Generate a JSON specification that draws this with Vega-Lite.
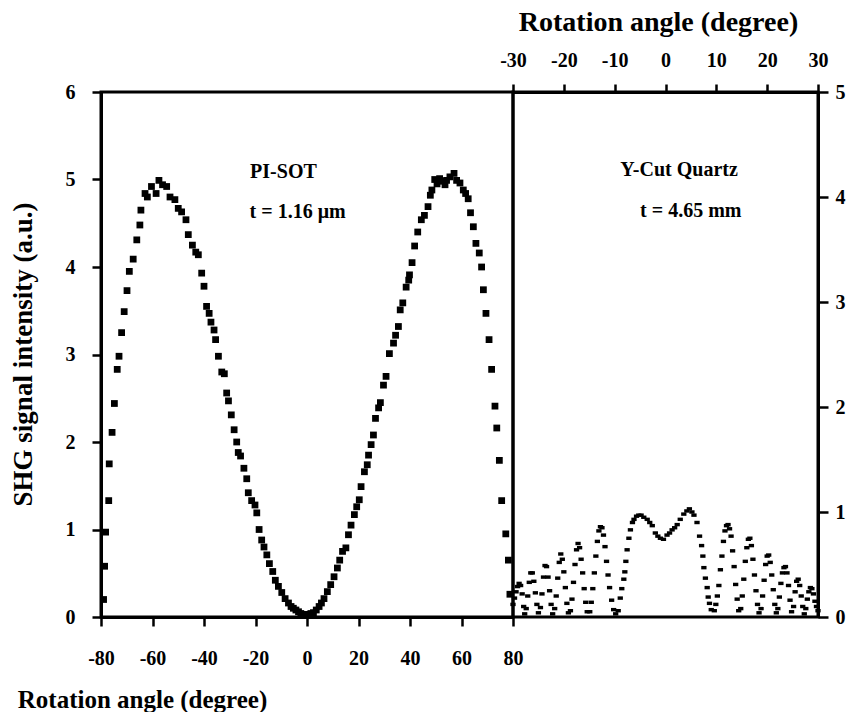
{
"$schema": "https://vega.github.io/schema/vega-lite/v6.json",
"background": "white",
"padding": {"left": 7, "top": 6, "right": 5, "bottom": 2},
"spacing": 0,
"bounds": "flush",
"config": {
 "view": {"stroke": "black", "strokeWidth": 3},
 "font": "Liberation Serif",
 "axis": {"grid": false, "domainColor": "black", "domainWidth": 3, "tickColor": "black", "tickWidth": 2.5, "tickSize": 9, "labelFont": "Liberation Serif", "labelFontWeight": "bold", "labelFontSize": 20, "labelColor": "black", "titleFont": "Liberation Serif", "titleFontWeight": "bold", "titleColor": "black", "labelFlush": false, "labelOverlap": false, "labelExpr": "(datum.value < 0 ? '-' : '') + abs(datum.value)"}
},
"hconcat": [
 {
  "width": 412, "height": 525,
  "layer": [
   {
    "data": {"values": [
{"angle":-79.0,"signal":0.2},{"angle":-78.6,"signal":0.58},{"angle":-78.2,"signal":0.97},{"angle":-77.0,"signal":1.33},{"angle":-76.8,"signal":1.75},{"angle":-75.7,"signal":2.11},{"angle":-74.8,"signal":2.44},{"angle":-73.7,"signal":2.83},{"angle":-73.0,"signal":2.98},{"angle":-72.0,"signal":3.25},{"angle":-71.0,"signal":3.49},{"angle":-69.9,"signal":3.73},{"angle":-69.0,"signal":3.95},{"angle":-67.5,"signal":4.09},{"angle":-66.1,"signal":4.31},{"angle":-64.9,"signal":4.48},{"angle":-64.5,"signal":4.65},{"angle":-62.9,"signal":4.84},{"angle":-62.0,"signal":4.8},{"angle":-60.4,"signal":4.92},{"angle":-58.6,"signal":4.84},{"angle":-57.5,"signal":4.99},{"angle":-56.1,"signal":4.94},{"angle":-54.5,"signal":4.92},{"angle":-53.2,"signal":4.8},{"angle":-51.3,"signal":4.77},{"angle":-50.0,"signal":4.67},{"angle":-48.7,"signal":4.63},{"angle":-47.0,"signal":4.54},{"angle":-46.1,"signal":4.37},{"angle":-44.5,"signal":4.25},{"angle":-43.2,"signal":4.17},{"angle":-42.2,"signal":4.14},{"angle":-40.9,"signal":3.93},{"angle":-40.0,"signal":3.78},{"angle":-39.0,"signal":3.55},{"angle":-38.0,"signal":3.47},{"angle":-37.3,"signal":3.37},{"angle":-36.1,"signal":3.28},{"angle":-35.5,"signal":3.17},{"angle":-34.4,"signal":2.98},{"angle":-33.1,"signal":2.8},{"angle":-32.1,"signal":2.78},{"angle":-31.2,"signal":2.56},{"angle":-30.5,"signal":2.47},{"angle":-29.4,"signal":2.31},{"angle":-28.3,"signal":2.14},{"angle":-27.3,"signal":2.0},{"angle":-26.7,"signal":1.88},{"angle":-25.8,"signal":1.84},{"angle":-24.5,"signal":1.7},{"angle":-23.4,"signal":1.58},{"angle":-22.8,"signal":1.42},{"angle":-21.5,"signal":1.33},{"angle":-20.2,"signal":1.28},{"angle":-19.5,"signal":1.19},{"angle":-18.6,"signal":1.0},{"angle":-17.6,"signal":0.88},{"angle":-16.7,"signal":0.8},{"angle":-15.6,"signal":0.71},{"angle":-14.6,"signal":0.61},{"angle":-13.3,"signal":0.52},{"angle":-12.3,"signal":0.42},{"angle":-11.1,"signal":0.35},{"angle":-9.8,"signal":0.28},{"angle":-8.5,"signal":0.21},{"angle":-7.2,"signal":0.16},{"angle":-6.2,"signal":0.12},{"angle":-5.3,"signal":0.1},{"angle":-4.3,"signal":0.08},{"angle":-3.3,"signal":0.06},{"angle":-2.4,"signal":0.04},{"angle":-1.4,"signal":0.03},{"angle":-0.5,"signal":0.03},{"angle":0.5,"signal":0.02},{"angle":1.5,"signal":0.04},{"angle":2.5,"signal":0.05},{"angle":3.6,"signal":0.08},{"angle":4.7,"signal":0.12},{"angle":5.6,"signal":0.16},{"angle":6.6,"signal":0.21},{"angle":7.9,"signal":0.29},{"angle":9.2,"signal":0.37},{"angle":10.5,"signal":0.46},{"angle":11.8,"signal":0.56},{"angle":12.7,"signal":0.65},{"angle":13.8,"signal":0.75},{"angle":15.1,"signal":0.79},{"angle":16.1,"signal":0.94},{"angle":17.1,"signal":1.05},{"angle":18.4,"signal":1.17},{"angle":19.3,"signal":1.26},{"angle":20.3,"signal":1.34},{"angle":21.0,"signal":1.49},{"angle":22.3,"signal":1.66},{"angle":23.4,"signal":1.74},{"angle":23.9,"signal":1.85},{"angle":24.9,"signal":1.97},{"angle":25.8,"signal":2.08},{"angle":26.6,"signal":2.27},{"angle":27.8,"signal":2.39},{"angle":28.5,"signal":2.45},{"angle":29.7,"signal":2.65},{"angle":30.7,"signal":2.75},{"angle":32.0,"signal":3.01},{"angle":33.6,"signal":3.13},{"angle":34.4,"signal":3.22},{"angle":35.5,"signal":3.32},{"angle":36.2,"signal":3.51},{"angle":37.2,"signal":3.59},{"angle":38.5,"signal":3.77},{"angle":39.5,"signal":3.85},{"angle":39.8,"signal":3.91},{"angle":40.8,"signal":4.05},{"angle":41.8,"signal":4.24},{"angle":43.0,"signal":4.4},{"angle":44.4,"signal":4.54},{"angle":45.6,"signal":4.59},{"angle":47.0,"signal":4.69},{"angle":47.9,"signal":4.82},{"angle":48.5,"signal":4.88},{"angle":49.6,"signal":5.0},{"angle":50.5,"signal":4.95},{"angle":51.5,"signal":5.01},{"angle":52.5,"signal":4.98},{"angle":53.6,"signal":4.94},{"angle":54.2,"signal":4.99},{"angle":55.5,"signal":5.03},{"angle":57.1,"signal":5.07},{"angle":58.1,"signal":4.99},{"angle":59.4,"signal":4.96},{"angle":60.7,"signal":4.88},{"angle":61.6,"signal":4.84},{"angle":62.6,"signal":4.78},{"angle":63.5,"signal":4.62},{"angle":64.6,"signal":4.46},{"angle":65.6,"signal":4.27},{"angle":66.9,"signal":4.16},{"angle":67.8,"signal":4.0},{"angle":68.5,"signal":3.74},{"angle":69.5,"signal":3.47},{"angle":70.7,"signal":3.17},{"angle":71.7,"signal":2.83},{"angle":73.0,"signal":2.41},{"angle":73.7,"signal":2.16},{"angle":74.7,"signal":1.79},{"angle":75.6,"signal":1.33},{"angle":77.2,"signal":0.95},{"angle":78.2,"signal":0.65},{"angle":78.8,"signal":0.26}
    ]},
    "mark": {"type": "point", "shape": "square", "filled": true, "color": "black", "size": 46, "opacity": 1},
    "encoding": {
     "x": {"field": "angle", "type": "quantitative", "scale": {"domain": [-80, 80], "nice": false, "zero": false},
      "axis": {"orient": "bottom", "title": "Rotation angle (degree)", "titleFontSize": 25, "titleX": 41, "titleY": 82, "titleBaseline": "middle", "titleAlign": "center", "values": [-80,-60,-40,-20,0,20,40,60,80], "labelPadding": 22, "tickSize": 9}},
     "y": {"field": "signal", "type": "quantitative", "scale": {"domain": [0, 6], "nice": false},
      "axis": {"orient": "left", "title": "SHG signal intensity (a.u.)", "titleFontSize": 27, "titleX": -78, "titleY": 262, "titleBaseline": "middle", "titleAlign": "center", "values": [0,1,2,3,4,5,6], "labelPadding": 17, "tickSize": 9}}
    }
   },
   {
    "data": {"values": [
     {"angle": -22.1, "signal": 5.09, "label": "PI-SOT"},
     {"angle": -22.3, "signal": 4.63, "label": "t = 1.16 μm"}
    ]},
    "mark": {"type": "text", "align": "left", "baseline": "middle", "fontSize": 20, "fontWeight": "bold", "font": "Liberation Serif", "color": "black"},
    "encoding": {
     "x": {"field": "angle", "type": "quantitative"},
     "y": {"field": "signal", "type": "quantitative"},
     "text": {"field": "label"}
    }
   }
  ]
 },
 {
  "width": 305, "height": 525,
  "layer": [
   {
    "data": {"values": [
{"angle":-30.0,"signal":0.12},{"angle":-29.7,"signal":0.18},{"angle":-29.4,"signal":0.24},{"angle":-29.1,"signal":0.29},{"angle":-28.8,"signal":0.32},{"angle":-28.5,"signal":0.3},{"angle":-28.2,"signal":0.22},{"angle":-27.9,"signal":0.1},{"angle":-27.7,"signal":0.03},
{"angle":-27.4,"signal":0.08},{"angle":-27.1,"signal":0.2},{"angle":-26.8,"signal":0.33},{"angle":-26.5,"signal":0.42},{"angle":-26.2,"signal":0.42},{"angle":-25.9,"signal":0.34},{"angle":-25.6,"signal":0.23},{"angle":-25.3,"signal":0.12},{"angle":-25.0,"signal":0.04},
{"angle":-24.6,"signal":0.09},{"angle":-24.3,"signal":0.22},{"angle":-24.0,"signal":0.38},{"angle":-23.7,"signal":0.49},{"angle":-23.4,"signal":0.48},{"angle":-23.1,"signal":0.38},{"angle":-22.8,"signal":0.25},{"angle":-22.5,"signal":0.12},{"angle":-22.2,"signal":0.03},
{"angle":-21.8,"signal":0.08},{"angle":-21.5,"signal":0.2},{"angle":-21.2,"signal":0.37},{"angle":-20.9,"signal":0.52},{"angle":-20.6,"signal":0.6},{"angle":-20.3,"signal":0.55},{"angle":-20.0,"signal":0.43},{"angle":-19.7,"signal":0.28},{"angle":-19.4,"signal":0.13},{"angle":-19.1,"signal":0.04},
{"angle":-18.7,"signal":0.06},{"angle":-18.4,"signal":0.17},{"angle":-18.1,"signal":0.33},{"angle":-17.8,"signal":0.5},{"angle":-17.5,"signal":0.64},{"angle":-17.2,"signal":0.7},{"angle":-16.9,"signal":0.66},{"angle":-16.6,"signal":0.55},{"angle":-16.3,"signal":0.42},{"angle":-16.0,"signal":0.27},{"angle":-15.7,"signal":0.14},{"angle":-15.4,"signal":0.05},
{"angle":-14.9,"signal":0.05},{"angle":-14.6,"signal":0.14},{"angle":-14.3,"signal":0.27},{"angle":-14.0,"signal":0.42},{"angle":-13.7,"signal":0.58},{"angle":-13.4,"signal":0.72},{"angle":-13.1,"signal":0.82},{"angle":-12.8,"signal":0.86},{"angle":-12.5,"signal":0.85},{"angle":-12.2,"signal":0.78},{"angle":-11.9,"signal":0.67},{"angle":-11.6,"signal":0.53},{"angle":-11.3,"signal":0.4},{"angle":-11.0,"signal":0.28},{"angle":-10.6,"signal":0.16},{"angle":-10.2,"signal":0.07},{"angle":-9.8,"signal":0.03},
{"angle":-9.3,"signal":0.06},{"angle":-8.9,"signal":0.18},{"angle":-8.6,"signal":0.27},{"angle":-8.2,"signal":0.36},{"angle":-8.0,"signal":0.43},{"angle":-7.8,"signal":0.53},{"angle":-7.55,"signal":0.64},{"angle":-7.2,"signal":0.75},{"angle":-6.9,"signal":0.83},{"angle":-6.5,"signal":0.9},{"angle":-6.2,"signal":0.93},{"angle":-5.7,"signal":0.96},{"angle":-5.26,"signal":0.97},{"angle":-4.8,"signal":0.97},{"angle":-4.27,"signal":0.95},{"angle":-3.6,"signal":0.93},{"angle":-3.1,"signal":0.9},{"angle":-2.6,"signal":0.87},{"angle":-2.0,"signal":0.8},{"angle":-1.5,"signal":0.77},{"angle":-1.0,"signal":0.75},{"angle":-0.4,"signal":0.74},{"angle":0.3,"signal":0.78},{"angle":0.8,"signal":0.8},{"angle":1.3,"signal":0.83},{"angle":1.8,"signal":0.85},{"angle":2.3,"signal":0.88},{"angle":2.9,"signal":0.93},{"angle":3.6,"signal":0.98},{"angle":4.2,"signal":1.01},{"angle":4.7,"signal":1.03},{"angle":5.2,"signal":1.0},{"angle":5.6,"signal":0.97},{"angle":6.2,"signal":0.9},{"angle":6.7,"signal":0.77},{"angle":7.1,"signal":0.68},{"angle":7.35,"signal":0.58},{"angle":7.55,"signal":0.47},{"angle":7.85,"signal":0.37},{"angle":8.2,"signal":0.28},{"angle":8.4,"signal":0.19},{"angle":8.65,"signal":0.13},{"angle":9.0,"signal":0.07},
{"angle":9.6,"signal":0.06},{"angle":9.9,"signal":0.12},{"angle":10.2,"signal":0.2},{"angle":10.5,"signal":0.3},{"angle":10.8,"signal":0.45},{"angle":11.1,"signal":0.58},{"angle":11.4,"signal":0.72},{"angle":11.7,"signal":0.82},{"angle":12.0,"signal":0.87},{"angle":12.3,"signal":0.88},{"angle":12.6,"signal":0.84},{"angle":12.9,"signal":0.77},{"angle":13.2,"signal":0.63},{"angle":13.5,"signal":0.48},{"angle":13.8,"signal":0.31},{"angle":14.1,"signal":0.17},{"angle":14.4,"signal":0.06},
{"angle":14.8,"signal":0.08},{"angle":15.1,"signal":0.2},{"angle":15.4,"signal":0.36},{"angle":15.7,"signal":0.53},{"angle":16.0,"signal":0.66},{"angle":16.3,"signal":0.74},{"angle":16.6,"signal":0.75},{"angle":16.9,"signal":0.68},{"angle":17.2,"signal":0.55},{"angle":17.5,"signal":0.4},{"angle":17.8,"signal":0.25},{"angle":18.1,"signal":0.12},{"angle":18.4,"signal":0.04},
{"angle":18.8,"signal":0.08},{"angle":19.1,"signal":0.2},{"angle":19.4,"signal":0.35},{"angle":19.7,"signal":0.5},{"angle":20.0,"signal":0.58},{"angle":20.3,"signal":0.59},{"angle":20.6,"signal":0.52},{"angle":20.9,"signal":0.4},{"angle":21.2,"signal":0.26},{"angle":21.5,"signal":0.12},{"angle":21.8,"signal":0.04},
{"angle":22.1,"signal":0.08},{"angle":22.4,"signal":0.19},{"angle":22.7,"signal":0.32},{"angle":23.0,"signal":0.42},{"angle":23.3,"signal":0.47},{"angle":23.6,"signal":0.48},{"angle":23.9,"signal":0.42},{"angle":24.2,"signal":0.3},{"angle":24.5,"signal":0.16},{"angle":24.8,"signal":0.05},
{"angle":25.2,"signal":0.1},{"angle":25.5,"signal":0.24},{"angle":25.8,"signal":0.34},{"angle":26.1,"signal":0.36},{"angle":26.4,"signal":0.3},{"angle":26.7,"signal":0.2},{"angle":27.0,"signal":0.1},{"angle":27.3,"signal":0.03},
{"angle":27.6,"signal":0.08},{"angle":27.9,"signal":0.17},{"angle":28.2,"signal":0.24},{"angle":28.5,"signal":0.28},{"angle":28.8,"signal":0.27},{"angle":29.1,"signal":0.22},{"angle":29.4,"signal":0.15},{"angle":29.7,"signal":0.1},{"angle":30.0,"signal":0.06}
    ]},
    "mark": {"type": "point", "shape": "M-1,-0.65H1V0.65H-1Z", "filled": true, "color": "black", "size": 28, "opacity": 1},
    "encoding": {
     "x": {"field": "angle", "type": "quantitative", "scale": {"domain": [-30, 30], "nice": false, "zero": false},
      "axis": {"orient": "top", "title": "Rotation angle (degree)", "titleFontSize": 28, "titleX": 145, "titleY": -70, "titleBaseline": "middle", "titleAlign": "center", "values": [-30,-20,-10,0,10,20,30], "labelPadding": 14, "tickSize": 8}},
     "y": {"field": "signal", "type": "quantitative", "scale": {"domain": [0, 5], "nice": false},
      "axis": {"orient": "right", "title": null, "values": [0,1,2,3,4,5], "labelPadding": 7, "tickSize": 10}}
    }
   },
   {
    "data": {"values": [
     {"angle": -8.9, "signal": 4.26, "label": "Y-Cut Quartz"},
     {"angle": -5.0, "signal": 3.87, "label": "t = 4.65 mm"}
    ]},
    "mark": {"type": "text", "align": "left", "baseline": "middle", "fontSize": 20, "fontWeight": "bold", "font": "Liberation Serif", "color": "black"},
    "encoding": {
     "x": {"field": "angle", "type": "quantitative"},
     "y": {"field": "signal", "type": "quantitative"},
     "text": {"field": "label"}
    }
   }
  ]
 }
]
}
